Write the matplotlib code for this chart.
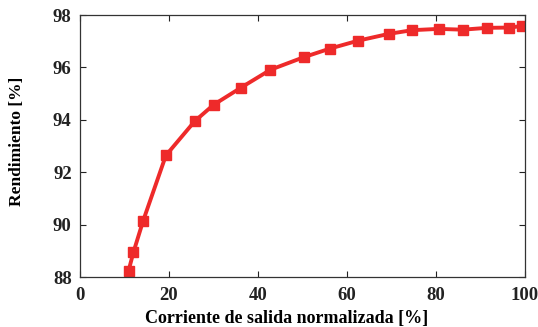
import matplotlib
matplotlib.use('Agg')
import matplotlib.pyplot as plt

# corriente de salida normalizada [%] y rendimiento [%]
corriente = [10.9, 12.0, 14.2, 19.3, 25.8, 30.0, 36.2, 42.8, 50.3, 56.2,
             62.5, 69.4, 74.6, 80.6, 86.0, 91.5, 96.5, 99.3]
rendimiento = [88.23, 88.94, 90.15, 92.64, 93.95, 94.57, 95.23, 95.91, 96.39, 96.72,
               97.02, 97.28, 97.42, 97.47, 97.44, 97.51, 97.52, 97.58]

xticks = [0, 20, 40, 60, 80, 100]
yticks = [88, 90, 92, 94, 96, 98]

plt.rcParams['font.family'] = ['Liberation Serif', 'DejaVu Serif']
plt.rcParams['font.weight'] = 'bold'

fig = plt.figure(figsize=(5.38, 3.27), dpi=100)
ax = fig.add_axes([80/538, 1-277/327, 445/538, 262/327])

ax.plot(corriente, rendimiento, color='#ee2a2a', linewidth=2.8,
        marker='s', markersize=6.8)

ax.set_xlim(0, 100)
ax.set_ylim(88, 98)
ax.set_xticks(xticks)
ax.set_yticks(yticks)
ax.tick_params(direction='in', top=True, right=True, length=4, width=0.8,
               labelsize=13.5, colors='#222222')
ax.tick_params(axis='x', pad=7)
ax.tick_params(axis='y', pad=6)
for s in ax.spines.values():
    s.set_color('#333333')
    s.set_linewidth(0.9)

ax.set_xlabel('Corriente de salida normalizada [%]', fontsize=13, fontweight='bold', va='center')
ax.set_ylabel('Rendimiento [%]', fontsize=12.5, fontweight='bold', va='center')
ax.xaxis.set_label_coords((286.5-80)/445, -(318-277)/262)
ax.yaxis.set_label_coords((17-80)/445, (277-141)/262)

fig.savefig('out.png', dpi=100)
